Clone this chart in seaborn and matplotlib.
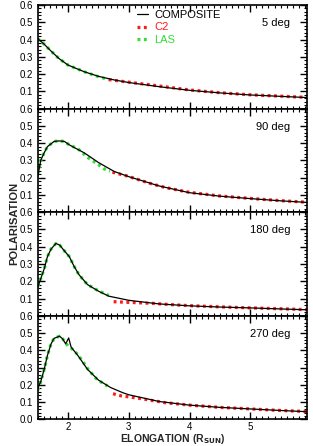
import numpy as np
import pandas as pd
import matplotlib
matplotlib.use("Agg")
import matplotlib.pyplot as plt
import seaborn as sns
from matplotlib.ticker import MultipleLocator, FormatStrFormatter

sns.set_theme(style="white")
plt.rcParams['font.family'] = ['Liberation Sans', 'DejaVu Sans']

panel_labels = ["5 deg", "90 deg", "180 deg", "270 deg"]

# COMPOSITE curves
comp_x1 = [1.5, 1.6, 1.72, 1.85, 2.0, 2.27, 2.5, 2.76, 3.0, 3.5, 4.0, 4.5, 5.0, 5.5, 5.93]
comp_y1 = [0.405, 0.375, 0.333, 0.29, 0.252, 0.213, 0.187, 0.166, 0.151, 0.127, 0.106, 0.091, 0.079, 0.071, 0.064]
comp_x2 = [1.5, 1.55, 1.6, 1.66, 1.77, 1.85, 1.94, 2.02, 2.27, 2.5, 2.76, 3.0, 3.5, 4.0, 4.5, 5.0, 5.5, 5.93]
comp_y2 = [0.205, 0.30, 0.34, 0.38, 0.41, 0.413, 0.41, 0.39, 0.343, 0.288, 0.236, 0.206, 0.152, 0.113, 0.093, 0.079, 0.066, 0.057]
comp_x3 = [1.5, 1.55, 1.61, 1.66, 1.72, 1.8, 1.86, 1.94, 2.02, 2.1, 2.18, 2.32, 2.5, 2.67, 3.0, 3.5, 4.0, 4.5, 5.0, 5.5, 5.93]
comp_y3 = [0.165, 0.215, 0.276, 0.343, 0.387, 0.419, 0.41, 0.376, 0.343, 0.286, 0.238, 0.181, 0.143, 0.114, 0.09, 0.069, 0.058, 0.051, 0.046, 0.04, 0.035]
comp_x4 = [1.5, 1.55, 1.61, 1.66, 1.72, 1.77, 1.86, 1.91, 1.96, 2.01, 2.05, 2.16, 2.32, 2.5, 2.7, 2.9, 3.0, 3.5, 4.0, 4.5, 5.0, 5.5, 5.93]
comp_y4 = [0.18, 0.219, 0.295, 0.371, 0.438, 0.47, 0.482, 0.467, 0.438, 0.472, 0.419, 0.371, 0.29, 0.228, 0.185, 0.155, 0.143, 0.104, 0.083, 0.07, 0.061, 0.052, 0.045]

# LAS (green dotted)
las_x1 = [1.5, 1.6, 1.72, 1.85, 2.0, 2.27, 2.5, 2.67]
las_y1 = [0.405, 0.375, 0.333, 0.29, 0.252, 0.213, 0.185, 0.168]
las_x2 = [1.5, 1.55, 1.6, 1.66, 1.77, 1.85, 1.94, 2.02, 2.16, 2.32, 2.5, 2.6, 2.69]
las_y2 = [0.22, 0.30, 0.34, 0.38, 0.41, 0.413, 0.41, 0.39, 0.368, 0.318, 0.276, 0.25, 0.238]
las_x3 = [1.5, 1.55, 1.61, 1.66, 1.72, 1.8, 1.86, 1.94, 2.02, 2.1, 2.18, 2.32, 2.5, 2.67]
las_y3 = [0.17, 0.215, 0.276, 0.343, 0.387, 0.419, 0.41, 0.376, 0.343, 0.286, 0.238, 0.181, 0.145, 0.118]
las_x4 = [1.5, 1.55, 1.61, 1.66, 1.72, 1.77, 1.86, 1.91, 2.0, 2.1, 2.21, 2.32, 2.46, 2.57, 2.65]
las_y4 = [0.17, 0.219, 0.295, 0.371, 0.438, 0.47, 0.482, 0.467, 0.425, 0.40, 0.352, 0.295, 0.238, 0.21, 0.194]

# C2 (red dotted)
c2_x1 = [2.67, 3.0, 3.5, 4.0, 4.5, 5.0, 5.5, 5.93]
c2_y1 = [0.168, 0.153, 0.131, 0.108, 0.092, 0.08, 0.072, 0.065]
c2_x2 = [2.73, 2.97, 3.36, 3.6, 4.0, 4.5, 5.0, 5.5, 5.93]
c2_y2 = [0.232, 0.21, 0.166, 0.143, 0.115, 0.094, 0.08, 0.067, 0.058]
c2_x3 = [2.75, 2.87, 3.14, 3.41, 3.6, 4.0, 4.5, 5.0, 5.5, 5.93]
c2_y3 = [0.082, 0.08, 0.076, 0.072, 0.067, 0.059, 0.052, 0.046, 0.041, 0.036]
c2_x4 = [2.74, 2.87, 3.14, 3.47, 3.6, 4.0, 4.5, 5.0, 5.5, 5.93]
c2_y4 = [0.149, 0.137, 0.124, 0.105, 0.097, 0.083, 0.07, 0.061, 0.052, 0.046]

comp = [(comp_x1, comp_y1), (comp_x2, comp_y2), (comp_x3, comp_y3), (comp_x4, comp_y4)]
las = [(las_x1, las_y1), (las_x2, las_y2), (las_x3, las_y3), (las_x4, las_y4)]
c2 = [(c2_x1, c2_y1), (c2_x2, c2_y2), (c2_x3, c2_y3), (c2_x4, c2_y4)]

RED = "#ff1a1a"
GREEN = "#33dd33"
FS = 8
TFS = 7

fig = plt.figure(figsize=(3.13, 4.46), dpi=100)
left, right, top, bottom = 0.1205, 0.98, 0.9888, 0.0595
h = (top - bottom) / 4
axes = []
for i in range(4):
    ax = fig.add_axes([left, top - (i + 1) * h, right - left, h])
    axes.append(ax)

for i, ax in enumerate(axes):
    df_l = pd.DataFrame({"x": las[i][0], "y": las[i][1]})
    df_c = pd.DataFrame({"x": c2[i][0], "y": c2[i][1]})
    df_m = pd.DataFrame({"x": comp[i][0], "y": comp[i][1]})
    sns.lineplot(data=df_l, x="x", y="y", ax=ax, color=GREEN, lw=2.3,
                 label="LAS" if i == 0 else None, sort=False)
    sns.lineplot(data=df_c, x="x", y="y", ax=ax, color=RED, lw=2.3,
                 label="C2" if i == 0 else None, sort=False)
    sns.lineplot(data=df_m, x="x", y="y", ax=ax, color="black", lw=0.9,
                 label="COMPOSITE" if i == 0 else None, sort=False)
    for ln in ax.lines[:2]:
        ln.set_dashes((0.9, 1.1))
    ax.set_xlim(1.5, 5.93)
    ax.set_ylim(0, 0.6)
    ax.xaxis.set_major_locator(MultipleLocator(1))
    ax.xaxis.set_minor_locator(MultipleLocator(0.1))
    ax.yaxis.set_major_locator(MultipleLocator(0.1))
    ax.yaxis.set_minor_locator(MultipleLocator(0.02))
    ax.yaxis.set_major_formatter(FormatStrFormatter("%.1f"))
    ax.tick_params(which="both", direction="in", top=True, right=True,
                   left=True, bottom=True, colors="black", labelsize=TFS)
    ax.tick_params(axis="y", pad=3.2)
    ax.tick_params(axis="x", pad=1.5)
    ax.tick_params(which="major", length=5, width=1.0)
    ax.tick_params(which="minor", length=2.5, width=0.8)
    for s in ax.spines.values():
        s.set_color("black")
        s.set_linewidth(1.2)
    ax.set_xlabel("")
    ax.set_ylabel("")
    if i < 3:
        ax.set_xticklabels([])
        ax.set_yticks([0.1, 0.2, 0.3, 0.4, 0.5, 0.6])
    else:
        ax.set_xticks([2, 3, 4, 5])
    ax.text(0.938, 0.825, panel_labels[i], transform=ax.transAxes,
            ha="right", va="center", fontsize=FS, color="black")
    ax.set_facecolor("white")

# legend
ax0 = axes[0]
handles, labels = ax0.get_legend_handles_labels()
order = [labels.index("COMPOSITE"), labels.index("C2"), labels.index("LAS")]
leg = ax0.legend([handles[k] for k in order], [labels[k] for k in order],
                 loc="upper left", bbox_to_anchor=(0.37, 0.95), frameon=False,
                 fontsize=FS, handlelength=1.0, handletextpad=0.5,
                 labelspacing=0.2, borderaxespad=0.0, borderpad=0.0)
for txt, c in zip(leg.get_texts(), ["black", RED, GREEN]):
    txt.set_color(c)

fig.text(0.045, 0.5, "POLARISATION", rotation=90, ha="center", va="center",
         fontsize=FS, fontweight="bold")
fig.text(0.553, 0.009, r"ELONGATION (R$_{\mathbf{SUN}}$)", ha="center", va="baseline",
         fontsize=7.5, fontweight="bold")

fig.savefig("out.png", dpi=100, facecolor="white")
